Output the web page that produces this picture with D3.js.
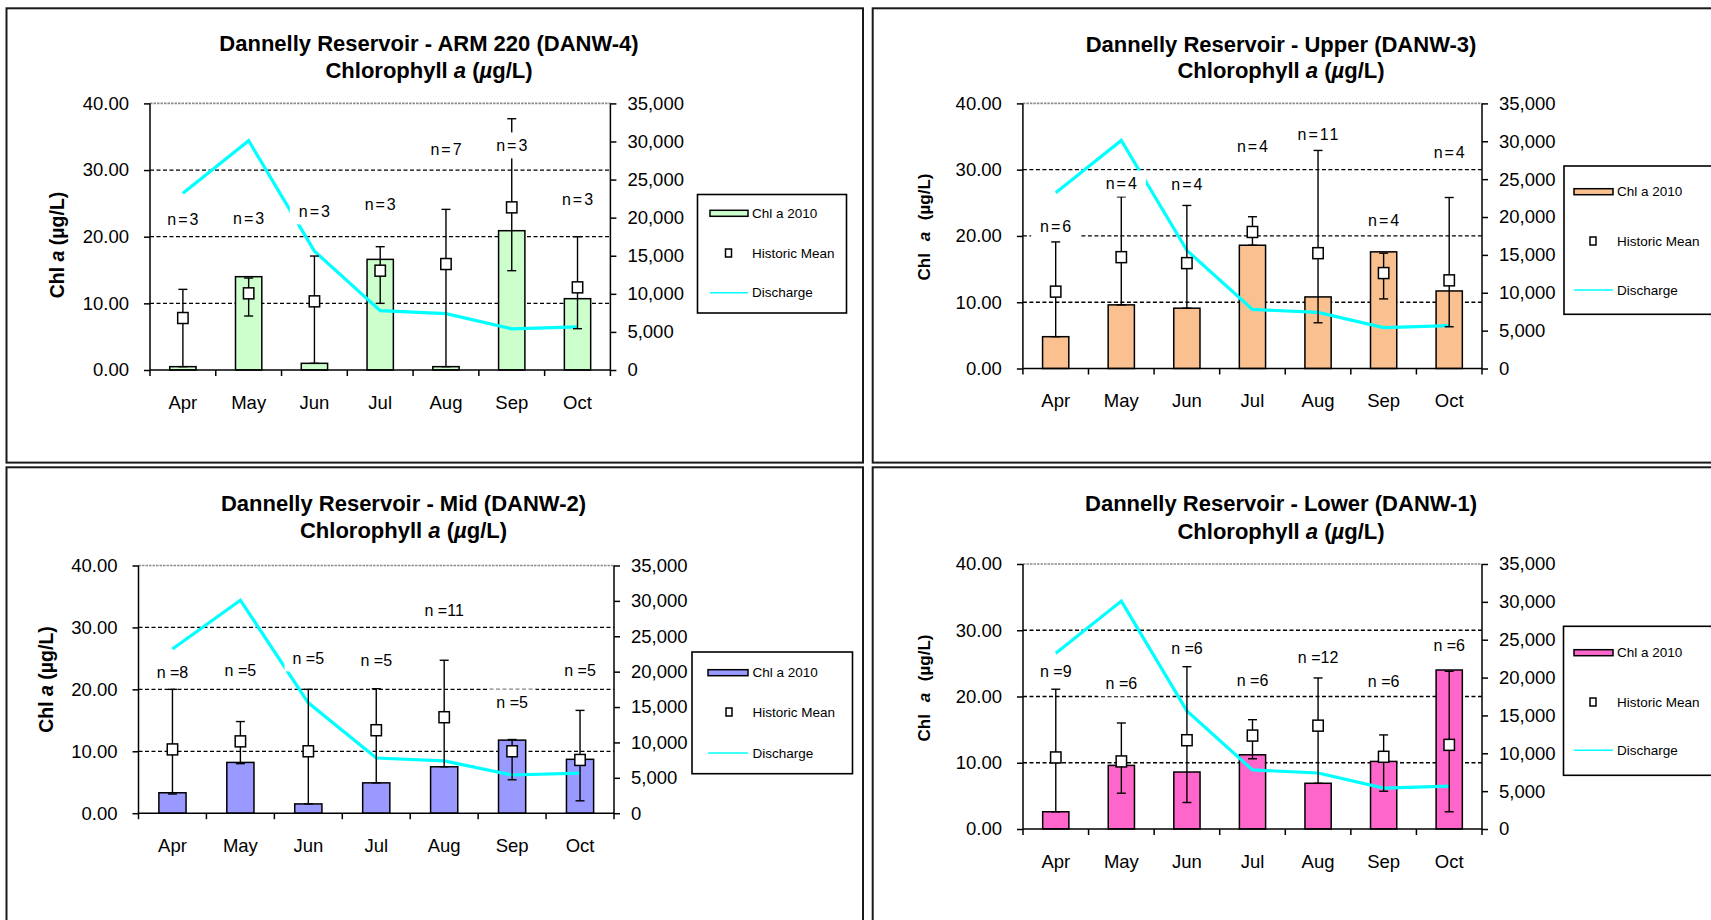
<!DOCTYPE html>
<html>
<head>
<meta charset="utf-8">
<script src="https://cdn.jsdelivr.net/npm/d3@7"></script>
<style>
  html, body { margin: 0; padding: 0; background: #fff; }
  svg { display: block; }
  text { font-family: Arial, "Liberation Sans", sans-serif; fill: #000; }
</style>
</head>
<body>
<svg id="chart" width="1711" height="920"></svg>
<script>
// ---- shared categories and axes ----
const months = ["Apr", "May", "Jun", "Jul", "Aug", "Sep", "Oct"];
const chlTicks = [0, 10, 20, 30, 40];
const dischargeTicks = [0, 5000, 10000, 15000, 20000, 25000, 30000, 35000];

// Monthly mean discharge (cfs), right axis
const discharge = [23200, 30100, 15600, 7800, 7400, 5400, 5650];

// ---- DANW-4 (ARM 220) ----
const danw4Chl  = [0.5, 14.0, 1.0, 16.6, 0.5, 20.9, 10.7];
const danw4Mean = [7.8, 11.5, 10.3, 14.9, 15.9, 24.4, 12.4];
const danw4Low  = [0.5, 8.1, 1.0, 10.0, 0.5, 14.9, 6.2];
const danw4High = [12.1, 13.8, 17.1, 18.5, 24.1, 37.7, 20.0];
const danw4N    = [3, 3, 3, 3, 7, 3, 3];
const danw4NAt  = [22.6, 22.7, 23.8, 24.8, 33.1, 33.7, 25.6];

// ---- DANW-3 (Upper) ----
const danw3Chl  = [4.8, 9.6, 9.1, 18.6, 10.8, 17.6, 11.7];
const danw3Mean = [11.6, 16.8, 15.9, 20.6, 17.4, 14.4, 13.3];
const danw3Low  = [4.8, 9.6, 9.1, 18.6, 6.9, 10.5, 6.3];
const danw3High = [19.1, 25.9, 24.6, 22.9, 32.9, 17.4, 25.8];
const danw3N    = [6, 4, 4, 4, 11, 4, 4];
const danw3NAt  = [21.5, 27.9, 27.7, 33.5, 35.3, 22.4, 32.6];

// ---- DANW-2 (Mid) ----
const danw2Chl  = [3.3, 8.2, 1.5, 4.9, 7.5, 11.8, 8.7];
const danw2Mean = [10.3, 11.6, 10.0, 13.4, 15.5, 10.0, 8.6];
const danw2Low  = [3.1, 8.0, 1.5, 4.9, 7.5, 5.4, 2.0];
const danw2High = [20.0, 14.8, 20.0, 20.1, 24.7, 11.9, 16.6];
const danw2N    = [8, 5, 5, 5, 11, 5, 5];
const danw2NAt  = [22.7, 23.0, 25.0, 24.6, 32.8, 17.9, 23.0];

// ---- DANW-1 (Lower) ----
const danw1Chl  = [2.6, 9.6, 8.6, 11.2, 6.9, 10.2, 24.0];
const danw1Mean = [10.8, 10.2, 13.4, 14.1, 15.6, 10.9, 12.7];
const danw1Low  = [2.6, 5.4, 4.0, 10.6, 6.9, 5.7, 2.6];
const danw1High = [21.1, 16.0, 24.5, 16.5, 22.8, 14.2, 23.8];
const danw1N    = [9, 6, 6, 6, 12, 6, 6];
const danw1NAt  = [23.7, 22.0, 27.2, 22.4, 25.9, 22.2, 27.7];

const legendLabels = ["Chl a 2010", "Historic Mean", "Discharge"];

// ---- panel layout ----
const panels = [
  { title: "Dannelly Reservoir - ARM 220 (DANW-4)",
    chl: danw4Chl, mean: danw4Mean, low: danw4Low, high: danw4High, n: danw4N, nAt: danw4NAt,
    nFmt: v => "n=" + v, nSpacing: 2, color: "#CCFFCC",
    frame: [6.5, 8.3, 856.5, 454.3], plot: { l: 150, r: 610.4, t: 103.4, b: 370 },
    titleX: 429, titleY: [50.5, 77.5], yTitle: [57, 245], yTitleWide: false,
    legend: { x: 697.5, y: 194.5, w: 149, h: 118.5, rows: [18.8, 58.5, 98.2], sw: [12.5, 50.5], mk: 31, tx: 54.5 } },
  { title: "Dannelly Reservoir - Upper (DANW-3)",
    chl: danw3Chl, mean: danw3Mean, low: danw3Low, high: danw3High, n: danw3N, nAt: danw3NAt,
    nFmt: v => "n=" + v, nSpacing: 2, color: "#FAC090",
    frame: [872.7, 8.3, 856.5, 454.3], plot: { l: 1022.9, r: 1482, t: 103.4, b: 368.5 },
    titleX: 1281, titleY: [51.5, 77.5], yTitle: [924, 227], yTitleWide: true,
    legend: { x: 1564, y: 166, w: 200, h: 148.3, rows: [25.7, 75, 124], sw: [10, 49], mk: 29, tx: 53 } },
  { title: "Dannelly Reservoir - Mid (DANW-2)",
    chl: danw2Chl, mean: danw2Mean, low: danw2Low, high: danw2High, n: danw2N, nAt: danw2NAt,
    nFmt: v => "n =" + v, nSpacing: 0, color: "#9999FF",
    frame: [6.5, 467.3, 856.5, 460], plot: { l: 138.5, r: 614, t: 565.5, b: 813.2 },
    titleX: 403.5, titleY: [510.5, 538], yTitle: [46, 679.5], yTitleWide: false,
    legend: { x: 692, y: 652, w: 160.5, h: 121.7, rows: [20.7, 60, 101], sw: [16, 56], mk: 37, tx: 60.5 } },
  { title: "Dannelly Reservoir - Lower (DANW-1)",
    chl: danw1Chl, mean: danw1Mean, low: danw1Low, high: danw1High, n: danw1N, nAt: danw1NAt,
    nFmt: v => "n =" + v, nSpacing: 0, color: "#FF66CC",
    frame: [872.7, 467.3, 856.5, 460], plot: { l: 1023, r: 1482, t: 564, b: 829 },
    titleX: 1281, titleY: [511, 538.5], yTitle: [924, 688], yTitleWide: true,
    legend: { x: 1563.5, y: 626.3, w: 200, h: 149, rows: [26.4, 75.7, 124], sw: [10.5, 49.5], mk: 29.5, tx: 53.5 } }
];

const svg = d3.select("#chart");
const FONT = 'Arial, "Liberation Sans", sans-serif';

panels.forEach(p => {
  const g = svg.append("g");
  const { l, r, t, b } = p.plot;

  // outer chart frame
  g.append("rect")
    .attr("x", p.frame[0]).attr("y", p.frame[1])
    .attr("width", p.frame[2]).attr("height", p.frame[3])
    .attr("fill", "#fff").attr("stroke", "#1a1a1a").attr("stroke-width", 2);

  const x = d3.scaleBand().domain(months).range([l, r]).paddingInner(0.6).paddingOuter(0.3);
  const step = x.step();
  const cx = m => x(m) + x.bandwidth() / 2;
  const y = d3.scaleLinear().domain([0, 40]).range([b, t]);
  const y2 = d3.scaleLinear().domain([0, 35000]).range([b, t]);

  // title
  const tt = g.append("text").attr("text-anchor", "middle")
    .attr("font-weight", "bold").attr("font-size", 22);
  tt.append("tspan").attr("x", p.titleX).attr("y", p.titleY[0]).text(p.title);
  const t2 = tt.append("tspan").attr("x", p.titleX).attr("y", p.titleY[1]);
  t2.append("tspan").text("Chlorophyll ");
  t2.append("tspan").attr("font-style", "italic").text("a");
  t2.append("tspan").text(" (");
  t2.append("tspan").attr("font-style", "italic").text("µ");
  t2.append("tspan").text("g/L)");

  // y-axis title
  const yt = g.append("text")
    .attr("transform", `translate(${p.yTitle[0]},${p.yTitle[1]}) rotate(-90)`)
    .attr("text-anchor", "middle").attr("dominant-baseline", "central")
    .attr("font-weight", "bold").attr("font-size", p.yTitleWide ? 17 : 19.5)
    .attr("word-spacing", p.yTitleWide ? 7 : 0);
  yt.append("tspan").text("Chl ");
  yt.append("tspan").attr("font-style", "italic").text("a");
  yt.append("tspan").text(" (µg/L)");

  // gridlines
  g.append("g").selectAll("line").data(chlTicks.filter(v => v > 0)).join("line")
    .attr("x1", l).attr("x2", r)
    .attr("y1", d => y(d)).attr("y2", d => y(d))
    .attr("stroke", d => d === 40 ? "#8c8c8c" : "#000")
    .attr("stroke-width", d => d === 40 ? 1.6 : 1.3)
    .attr("stroke-dasharray", d => d === 40 ? "2.5,1" : "4,2.5");

  // 2010 columns
  g.append("g").selectAll("rect").data(p.chl).join("rect")
    .attr("x", (d, i) => x(months[i]))
    .attr("y", d => y(d))
    .attr("width", x.bandwidth())
    .attr("height", d => y(0) - y(d))
    .attr("fill", p.color).attr("stroke", "#000").attr("stroke-width", 1.5);

  // discharge line
  g.append("path").datum(discharge)
    .attr("fill", "none").attr("stroke", "#00FFFF").attr("stroke-width", 3.2)
    .attr("stroke-linejoin", "miter")
    .attr("d", d3.line().x((d, i) => cx(months[i])).y(d => y2(d)));

  // historic range bars
  const eb = g.append("g").attr("stroke", "#000").attr("stroke-width", 1.4);
  p.mean.forEach((m, i) => {
    const xc = cx(months[i]);
    eb.append("line").attr("x1", xc).attr("x2", xc).attr("y1", y(p.low[i])).attr("y2", y(p.high[i]));
    [p.low[i], p.high[i]].forEach(v => {
      eb.append("line").attr("x1", xc - 4.5).attr("x2", xc + 4.5).attr("y1", y(v)).attr("y2", y(v));
    });
  });

  // historic mean markers
  g.append("g").selectAll("rect").data(p.mean).join("rect")
    .attr("x", (d, i) => cx(months[i]) - 5.2)
    .attr("y", d => y(d) - 5.5)
    .attr("width", 10.4).attr("height", 11)
    .attr("fill", "#fff").attr("stroke", "#000").attr("stroke-width", 1.5);

  // sample-count labels on white boxes
  const lab = g.append("g");
  p.n.forEach((v, i) => {
    const xc = cx(months[i]);
    const yc = y(p.nAt[i]);
    const box = lab.append("rect").attr("fill", "#fff");
    const tx = lab.append("text")
      .attr("x", xc + p.nSpacing / 2).attr("y", yc)
      .attr("text-anchor", "middle").attr("dominant-baseline", "central")
      .attr("font-size", 16).attr("letter-spacing", p.nSpacing)
      .text(p.nFmt(v));
    const w = tx.node().getComputedTextLength();
    box.attr("x", xc - w / 2 - 8).attr("y", yc - 13).attr("width", w + 16).attr("height", 26);
  });

  // axis lines
  const ax = g.append("g").attr("stroke", "#000").attr("stroke-width", 1.5);
  ax.append("line").attr("x1", l).attr("x2", l).attr("y1", t).attr("y2", b);
  ax.append("line").attr("x1", r).attr("x2", r).attr("y1", t).attr("y2", b);
  ax.append("line").attr("x1", l).attr("x2", r).attr("y1", b).attr("y2", b);
  // category boundary ticks
  d3.range(months.length + 1).forEach(k => {
    const xx = l + k * step;
    ax.append("line").attr("x1", xx).attr("x2", xx).attr("y1", b).attr("y2", b + 6);
  });

  // left axis
  g.append("g").attr("transform", `translate(${l},0)`)
    .call(d3.axisLeft(y).tickValues(chlTicks).tickFormat(d3.format(".2f")).tickSize(6).tickPadding(15))
    .call(a => {
      a.select(".domain").remove();
      a.attr("font-size", 18.5).attr("font-family", FONT);
      a.selectAll("line").attr("stroke", "#000").attr("stroke-width", 1.5);
    });

  // right axis
  g.append("g").attr("transform", `translate(${r},0)`)
    .call(d3.axisRight(y2).tickValues(dischargeTicks).tickFormat(d3.format(",")).tickSize(6).tickPadding(11))
    .call(a => {
      a.select(".domain").remove();
      a.attr("font-size", 18.5).attr("font-family", FONT);
      a.selectAll("line").attr("stroke", "#000").attr("stroke-width", 1.5);
    });

  // month labels
  g.append("g").attr("transform", `translate(0,${b})`)
    .call(d3.axisBottom(x).tickSize(0).tickPadding(25.5))
    .call(a => {
      a.select(".domain").remove();
      a.attr("font-size", 18.5).attr("font-family", FONT);
    });

  // legend
  const L = p.legend;
  const lg = g.append("g");
  lg.append("rect").attr("x", L.x).attr("y", L.y).attr("width", L.w).attr("height", L.h)
    .attr("fill", "#fff").attr("stroke", "#000").attr("stroke-width", 1.6);
  lg.append("rect")
    .attr("x", L.x + L.sw[0]).attr("y", L.y + L.rows[0] - 3)
    .attr("width", L.sw[1] - L.sw[0]).attr("height", 6)
    .attr("fill", p.color).attr("stroke", "#000").attr("stroke-width", 1.5);
  lg.append("rect")
    .attr("x", L.x + L.mk - 3).attr("y", L.y + L.rows[1] - 4)
    .attr("width", 6).attr("height", 8)
    .attr("fill", "#fff").attr("stroke", "#000").attr("stroke-width", 1.5);
  lg.append("line")
    .attr("x1", L.x + L.sw[0]).attr("x2", L.x + L.sw[1])
    .attr("y1", L.y + L.rows[2]).attr("y2", L.y + L.rows[2])
    .attr("stroke", "#00FFFF").attr("stroke-width", 1.6);
  lg.selectAll("text.lt").data(legendLabels).join("text")
    .attr("class", "lt")
    .attr("x", L.x + L.tx).attr("y", (d, i) => L.y + L.rows[i])
    .attr("dominant-baseline", "central").attr("font-size", 13.5)
    .text(d => d);
});
</script>
</body>
</html>
